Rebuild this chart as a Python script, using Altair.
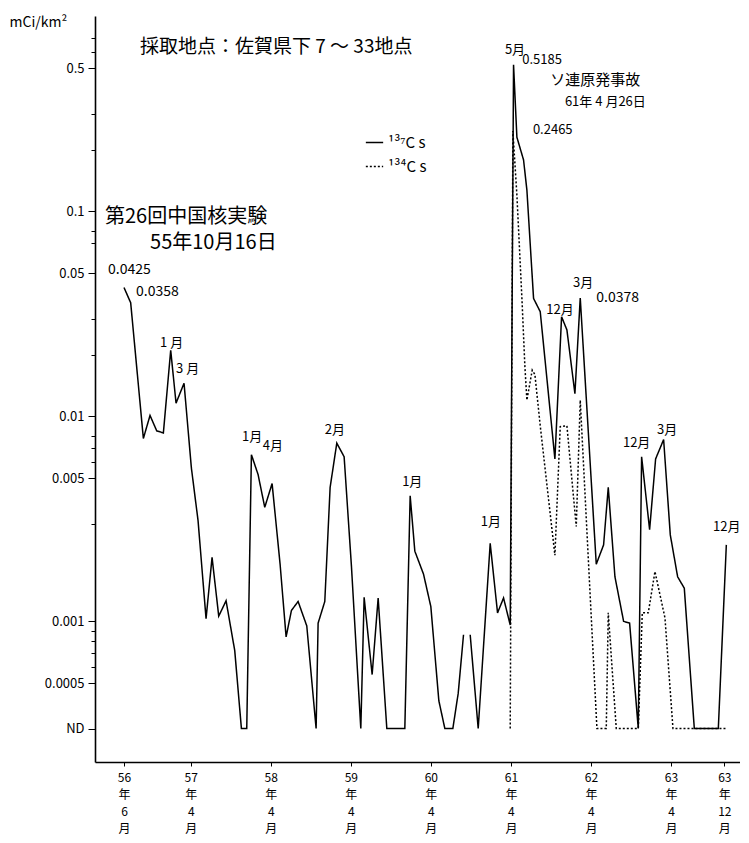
import json
import altair as alt
import pandas as pd

FONT = "Noto Sans CJK JP"
ND = "ND"
ND_LEVEL = 0.0003  # plotted level of "ND" (not detected)

S137 = "¹³⁷C s"
S134 = "¹³⁴C s"

# x = months after 昭和56年6月, None value = break in line
cs137_x = [0.0, 1.0, 2.9, 3.9, 4.9, 5.9, 7.0, 7.8, 9.0, 10.1, 11.1, 12.3, 13.2, 14.2,
           15.3, 16.6, 17.6, 18.4, 19.1, 20.1, 21.1, 22.2, 23.4, 24.3, 25.1, 26.1,
           27.4, 28.8, 29.1, 30.1, 30.9, 31.9, 33.0, 34.1, 35.5, 36.0, 37.2, 38.1,
           39.4, 42.1, 42.9, 43.6, 44.9, 46.0, 47.2, 48.1, 49.3, 50.1, 50.9, 51.4,
           51.9, 53.1, 54.9, 56.0, 56.9, 57.9, 58.4, 58.9, 59.9, 60.4, 61.4, 62.4,
           64.6, 65.6, 66.4, 67.6, 68.4, 70.8, 71.9, 72.6, 73.6, 74.9, 75.8, 77.1,
           77.6, 78.8, 79.7, 80.9, 81.9, 83.0, 84.0, 85.5, 89.1, 90.3]
cs137_v = [0.0425, 0.0358, 0.0078, 0.0101, 0.0085, 0.0083, 0.021, 0.0116, 0.0145,
           0.0056, 0.0031, 0.00103, 0.00205, 0.00106, 0.00126, 0.00072, ND, ND,
           0.0065, 0.0052, 0.0036, 0.0047, 0.0019, 0.00084, 0.00113, 0.00125,
           0.00095, ND, 0.00098, 0.00125, 0.0045, 0.0074, 0.00635, 0.00185, ND,
           0.00131, 0.00055, 0.0013, ND, ND, 0.0041, 0.0022, 0.0017, 0.00118,
           0.00041, ND, ND, 0.000445, 0.00086, None,
           0.00086, ND, 0.0024, 0.0011, 0.0013, 0.00096, 0.5185, 0.23, 0.178,
           0.127, 0.0376, 0.0324, 0.0062, 0.0306, 0.0264, 0.0129, 0.0378, 0.0019,
           0.00236, 0.0045, 0.00165, 0.001, 0.00098, ND, 0.00635, 0.0028, 0.0062,
           0.0077, 0.00264, 0.00165, 0.00145, ND, ND, 0.00236]

cs134_x = [57.9, 58.3, 58.9, 59.7, 60.1, 60.4, 61.2, 61.6, 62.4, 64.6, 65.4, 66.4,
           67.8, 68.4, 70.9, 72.3, 72.6, 73.8, 77.1, 77.7, 78.6, 79.6, 81.1, 82.3,
           90.4]
cs134_v = [ND, 0.2465, 0.12, 0.035, 0.0175, 0.012, 0.0168, 0.016, 0.009, 0.0021,
           0.0089, 0.009, 0.0029, 0.012, ND, ND, 0.0011, ND, ND, 0.0011, 0.0011,
           0.00175, 0.00104, ND, ND]

x_tick_values = [0, 10, 22, 34, 46, 58, 70, 82, 90]
x_tick_labels = ["56|年|6|月", "57|年|4|月", "58|年|4|月", "59|年|4|月", "60|年|4|月",
                 "61|年|4|月", "62|年|4|月", "63|年|4|月", "63|年|12|月"]

y_major = [0.5, 0.1, 0.05, 0.01, 0.005, 0.001, 0.0005, ND_LEVEL]
y_minor = [0.7, 0.6, 0.3, 0.2, 0.08, 0.07, 0.03, 0.02, 0.008, 0.007, 0.006, 0.003,
           0.0009, 0.0008, 0.0007, 0.0006]

ann_text = ["採取地点：佐賀県下  7  ～ 33地点", "第26回中国核実験", "55年10月16日",
            "0.0425", "0.0358", "1 月", "3 月", "1月", "4月", "2月", "1月", "1月",
            "5月", "0.5185", "ソ連原発事故", "61年 4 月26日", "0.2465", "12月", "3月",
            "0.0378", "12月", "3月", "12月"]
ann_x = [2.4, -2.85, 3.9, -2.4, 1.8, 5.4, 7.8, 17.7, 20.8, 30.1, 41.7, 53.5,
         57.1, 59.7, 63.9, 66.1, 61.3, 63.3, 67.3, 70.8, 74.8, 79.9, 88.3]
ann_v = [0.633, 0.0938, 0.070, 0.0518, 0.0404, 0.0228, 0.0171, 0.00793, 0.0072,
         0.00853, 0.00478, 0.00306, 0.612, 0.546, 0.437, 0.340, 0.249, 0.033,
         0.0446, 0.0378, 0.00745, 0.00853, 0.0029]
ann_size = [19, 20, 20, 14, 14, 13, 13, 13, 13, 13, 13, 13, 13, 13, 15, 13, 13,
            13, 13, 14, 13, 13, 13]


def build(xs, vs, name):
    rows, seg = [], 0
    for x, v in zip(xs, vs):
        if v is None:
            seg += 1
            continue
        rows.append({"m": x, "v": ND_LEVEL if v == ND else v, "series": name,
                     "seg": f"{name}-{seg}"})
    return rows


lines = pd.DataFrame(build(cs137_x, cs137_v, S137) + build(cs134_x, cs134_v, S134))
ann = pd.DataFrame({"t": ann_text, "m": ann_x, "v": ann_v, "s": ann_size})

x_scale = alt.Scale(domain=[-4.35, 92.35], nice=False, zero=False)
y_scale = alt.Scale(type="log", domain=[0.000206, 0.897], nice=False)

label_expr = ("split(" + json.dumps(x_tick_labels, ensure_ascii=False) + "[indexof("
              + json.dumps(x_tick_values) + ", datum.value)], '|')")
y_label_expr = ("datum.value < 0.0004 ? 'ND' : indexof(" + json.dumps(y_major)
                + ", datum.value) >= 0 ? format(datum.value, '') : ''")

x_axis = alt.Axis(values=x_tick_values, labelExpr=label_expr, title=None, grid=False,
                  domainColor="black", domainWidth=1.6, tickColor="black", tickSize=4,
                  labelFont=FONT, labelFontSize=12, labelColor="black",
                  labelLineHeight=17, labelPadding=6, labelAngle=0,
                  labelBaseline="top")
y_axis = alt.Axis(values=y_major + y_minor, labelExpr=y_label_expr, grid=False,
                  title="mCi/km²", titleAngle=0, titleAlign="left", titleX=-86,
                  titleY=6, titleBaseline="middle", titleFont=FONT,
                  titleFontSize=14, titleFontWeight="normal", titleColor="black",
                  domainColor="black", domainWidth=1.6, tickColor="black",
                  tickSize={"condition": {"test": "indexof(" + json.dumps(y_major) +
                                          ", datum.value) >= 0", "value": 7},
                            "value": 4},
                  labelFont=FONT, labelFontSize=13, labelColor="black",
                  labelPadding=4, labelOverlap=False)

line = alt.Chart(lines).mark_line(color="black", strokeWidth=1.5).encode(
    x=alt.X("m:Q", scale=x_scale, axis=x_axis),
    y=alt.Y("v:Q", scale=y_scale, axis=y_axis),
    strokeDash=alt.StrokeDash(
        "series:N",
        scale=alt.Scale(domain=[S137, S134], range=[[1, 0], [2, 2]]),
        legend=alt.Legend(orient="none", legendX=270, legendY=117, title=None,
                          symbolType="stroke", symbolStrokeColor="black",
                          symbolStrokeWidth=1.5, symbolSize=300,
                          labelFont=FONT, labelFontSize=15, labelColor="black",
                          rowPadding=6)),
    detail="seg:N",
    order="m:Q",
)

text = alt.Chart(ann).mark_text(align="left", baseline="middle", font=FONT,
                                color="black").encode(
    x=alt.X("m:Q", scale=x_scale),
    y=alt.Y("v:Q", scale=y_scale),
    text="t:N",
    size=alt.Size("s:Q", scale=None, legend=None),
)

chart = alt.layer(line, text).properties(
    width=645, height=746,
    padding={"left": 87, "top": 8, "right": 0, "bottom": 80},
    autosize=alt.AutoSizeParams(type="none"),
    background="white",
).configure_view(strokeWidth=0)

chart.save("out.html", embed_options={"renderer": "svg", "actions": False})
